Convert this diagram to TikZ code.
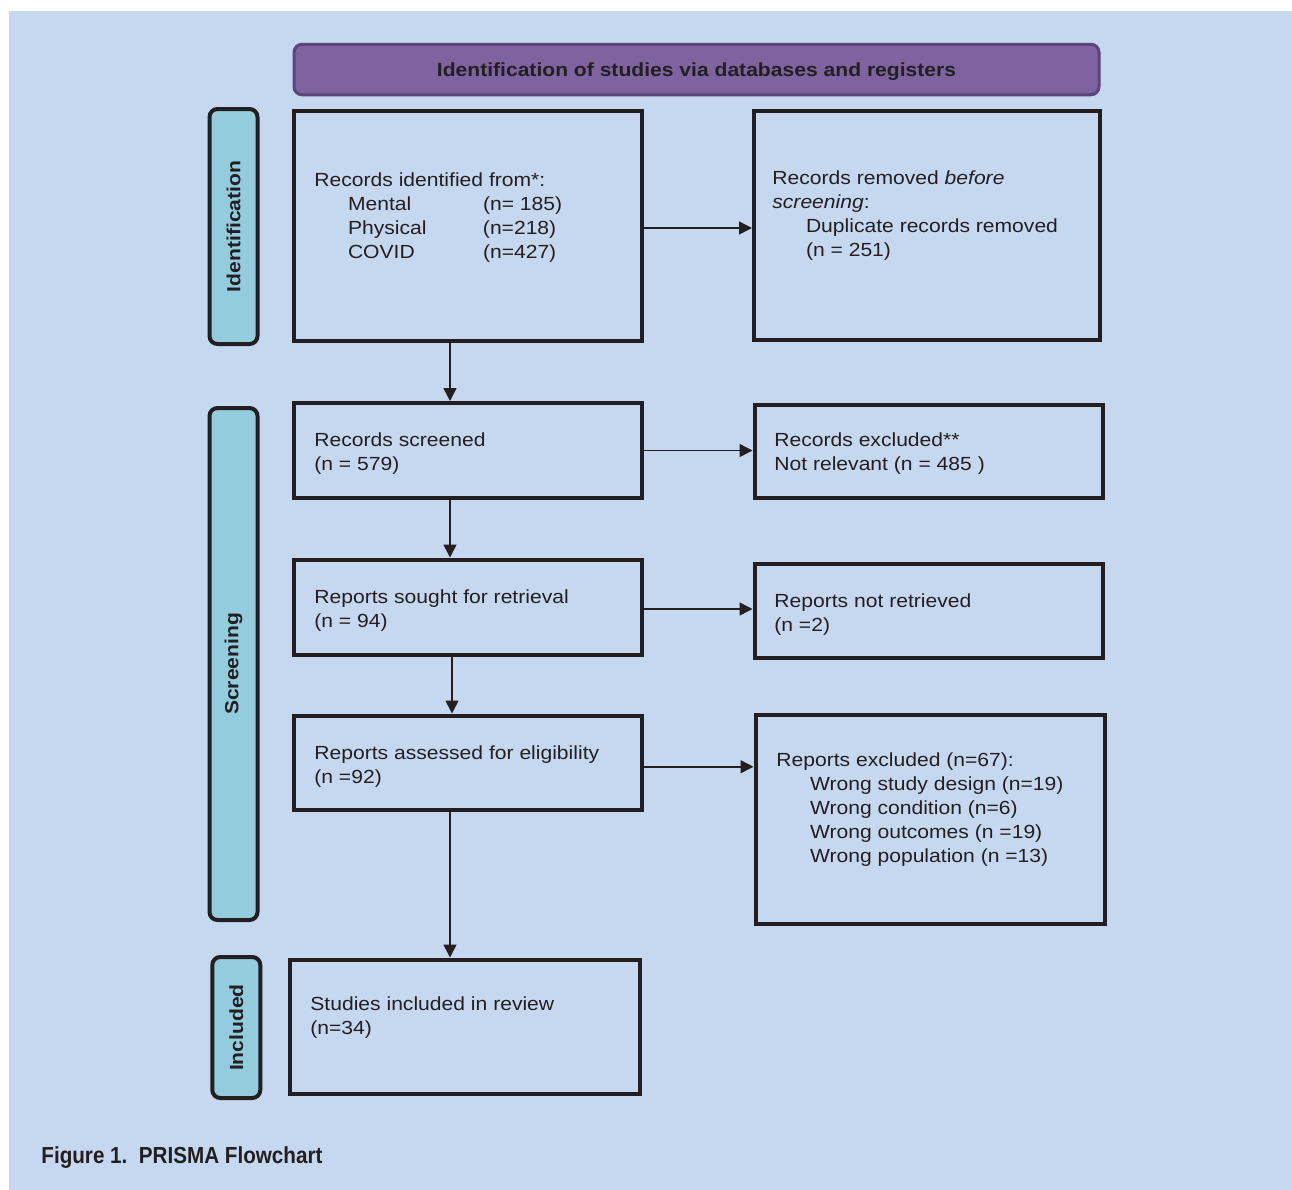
\documentclass[tikz,border=0pt]{standalone}
\usepackage{fontspec}
\setmainfont[FakeStretch=1.11]{Liberation Sans}
\newfontfamily\capfont[FakeStretch=0.89]{Liberation Sans}
\usetikzlibrary{arrows.meta}

\definecolor{bgblue}{HTML}{C5D8EF}
\definecolor{hdrpurple}{HTML}{7F63A0}
\definecolor{hdrborder}{HTML}{5C4677}
\definecolor{phasecyan}{HTML}{93CDDD}
\definecolor{inkgray}{HTML}{231F20}

\tikzset{
    box/.style={draw=inkgray, line width=2pt, inner sep=0pt},
    phase/.style={draw=inkgray, fill=phasecyan, line width=2pt, rounded corners=4pt,
        rotate=90, minimum height=24pt, text=inkgray,
        font=\fontsize{9.5}{11}\selectfont\bfseries},
    txt/.style={anchor=north west, align=left, inner sep=0pt, text=inkgray,
        font=\fontsize{9.5}{12}\selectfont},
    arr/.style={-{Triangle[length=6.5pt,width=6.5pt]}, line width=0.75pt, draw=inkgray},
}

\begin{document}
\begin{tikzpicture}[x=0.5pt, y=-0.5pt]
        \useasboundingbox (0,0) rectangle (1292,1190);
        \fill[bgblue] (9,11) rectangle (1292,1190);

        % header
        \node[draw=hdrborder, fill=hdrpurple, line width=1.5pt, rounded corners=4pt,
            minimum width=402.5pt, minimum height=25.25pt, text depth=0pt, text=inkgray,
            font=\fontsize{9.5}{11}\selectfont\bfseries]
            (header) at (696.5,69.5) {Identification of studies via databases and registers};

        % phases
        \node[phase, minimum width=117.5pt] (identph) at (233.5,226.5) {Identification};
        \node[phase, minimum width=256pt] (screenph) at (233.5,664) {Screening};
        \node[phase, minimum width=70.5pt] (inclph) at (236.3,1027.5) {Included};

        % identification
        \node[box, minimum width=174pt, minimum height=115pt] (recid) at (468,225.5) {};
        \node[txt] (recidtxt) at (314,172.5) {Records identified from*:\\
            \hspace*{16.8pt}\makebox[67.5pt][l]{Mental}(n= 185)\\
            \hspace*{16.8pt}\makebox[67.5pt][l]{Physical}(n=218)\\
            \hspace*{16.8pt}\makebox[67.5pt][l]{COVID}(n=427)};

        \node[box, minimum width=173pt, minimum height=114.5pt] (recrem) at (927,225) {};
        \node[txt] (recremtxt) at (772,170) {Records removed \textit{before}\\
            \textit{screening}:\\
            \hspace*{16.8pt}Duplicate records removed\\
            \hspace*{16.8pt}(n = 251)};

        % screening
        \node[box, minimum width=174pt, minimum height=47.5pt] (recscr) at (468,450.5) {};
        \node[txt] (recscrtxt) at (314,432) {Records screened\\(n = 579)};

        \node[box, minimum width=174pt, minimum height=46.25pt] (recexc) at (928.5,451.25) {};
        \node[txt] (recexctxt) at (774,432) {Records excluded**\\Not relevant (n = 485 )};

        \node[box, minimum width=174pt, minimum height=47.5pt] (repsou) at (468,607) {};
        \node[txt] (repsoutxt) at (314,589) {Reports sought for retrieval\\(n = 94)};

        \node[box, minimum width=174pt, minimum height=47pt] (repnot) at (928.5,611) {};
        \node[txt] (repnottxt) at (774,593) {Reports not retrieved\\(n =2)};

        \node[box, minimum width=174pt, minimum height=47.25pt] (repass) at (468,762.75) {};
        \node[txt] (repasstxt) at (314,745) {Reports assessed for eligibility\\(n =92)};

        \node[box, minimum width=174.5pt, minimum height=104.25pt] (repexc) at (930,819.25) {};
        \node[txt] (repexctxt) at (776,752.5) {Reports excluded (n=67):\\
            \hspace*{16.8pt}Wrong study design (n=19)\\
            \hspace*{16.8pt}Wrong condition (n=6)\\
            \hspace*{16.8pt}Wrong outcomes (n =19)\\
            \hspace*{16.8pt}Wrong population (n =13)};

        % included
        \node[box, minimum width=174.75pt, minimum height=67pt] (studinc) at (464.75,1026.5) {};
        \node[txt] (studinctxt) at (310,996) {Studies included in review\\(n=34)};

        % arrows
        \draw[arr] ([yshift=-1.25pt]recid.east) -- ([yshift=-1.25pt]recid.east -| recrem.west);
        \draw[arr] ([xshift=-9pt]recid.south) -- ([xshift=-9pt]recscr.north);
        \draw[arr] (recscr.east) -- (recscr.east -| recexc.west);
        \draw[arr] ([xshift=-9pt]recscr.south) -- ([xshift=-9pt]repsou.north);
        \draw[arr] ([yshift=-1pt]repsou.east) -- ([yshift=-1pt]repsou.east -| repnot.west);
        \draw[arr] ([xshift=-8pt]repsou.south) -- ([xshift=-8pt]repass.north);
        \draw[arr] ([yshift=-2pt]repass.east) -- ([yshift=-2pt]repass.east -| repexc.west);
        \draw[arr] ([xshift=-9pt]repass.south) -- ([xshift=-9pt]repass.south |- studinc.north);

        % caption
        \node[anchor=base west, inner sep=0pt, text=inkgray,
            font=\capfont\fontsize{11.6}{14}\selectfont\bfseries] (figcap) at (41,1163) {Figure 1.\ \ PRISMA Flowchart};
\end{tikzpicture}
\end{document}
